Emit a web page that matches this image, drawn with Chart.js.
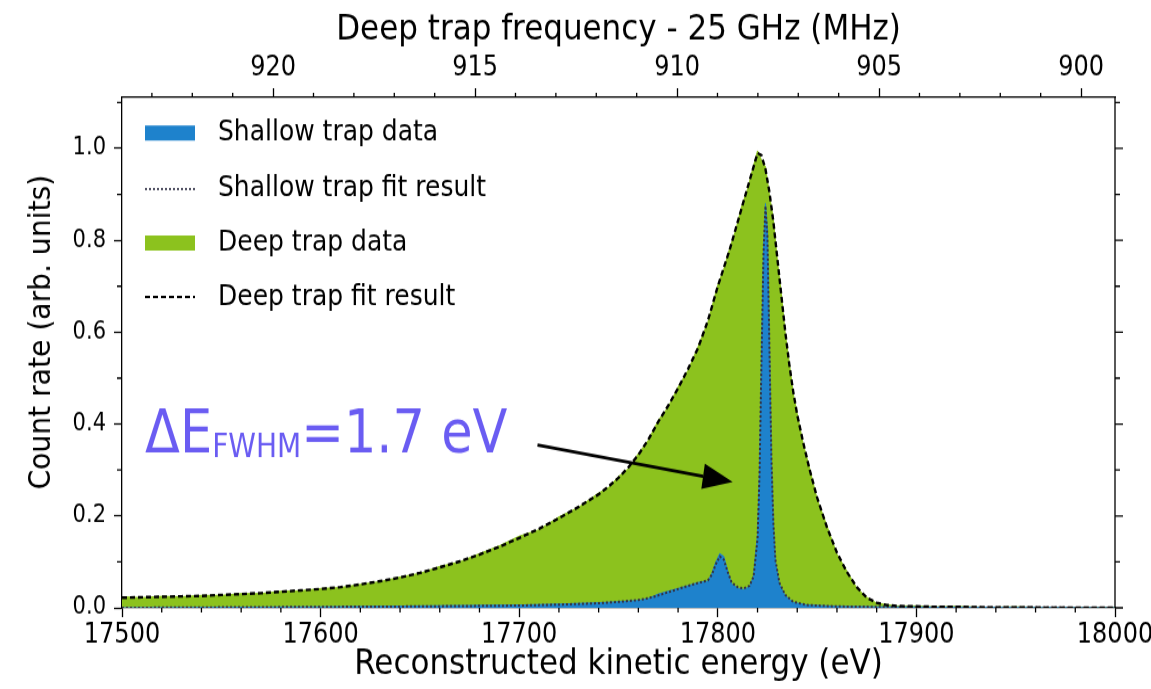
<!DOCTYPE html>
<html>
<head>
<meta charset="utf-8">
<script src="https://cdn.jsdelivr.net/npm/chart.js@4.4.1/dist/chart.umd.min.js"></script>
<style>
  html, body { margin: 0; padding: 0; background: #fff; }
</style>
</head>
<body>
<!-- drawn at 1151x594 and shown at 1151x689: the reference is stretched vertically -->
<canvas id="chart" width="1151" height="594" style="display:block;width:1151px;height:689px"></canvas>
<script>
// deep trap spectrum (green) and its fit
const deepEnergy = [17500, 17510, 17520, 17530, 17540, 17550, 17560, 17570, 17580, 17590,
  17600, 17610, 17620, 17630, 17640, 17650, 17660, 17670, 17680, 17690,
  17700, 17710, 17720, 17730, 17740, 17745, 17750, 17755, 17760, 17765,
  17770, 17775, 17780, 17785, 17790, 17795, 17800, 17803, 17806, 17809,
  17812, 17815, 17818, 17820, 17822, 17824, 17826, 17828, 17830, 17832,
  17834, 17836, 17838, 17840, 17843, 17846, 17850, 17855, 17860, 17865,
  17870, 17875, 17880, 17885, 17890, 17900, 17910, 17920, 17935, 17950,
  17970, 18000];
const deepCounts = [0.024, 0.022, 0.025, 0.024, 0.027, 0.027, 0.031, 0.031, 0.036, 0.037,
  0.042, 0.044, 0.051, 0.057, 0.067, 0.075, 0.090, 0.100, 0.118, 0.135,
  0.156, 0.170, 0.198, 0.219, 0.250, 0.262, 0.286, 0.303, 0.336, 0.365,
  0.408, 0.437, 0.481, 0.517, 0.568, 0.622, 0.703, 0.737, 0.783, 0.822,
  0.874, 0.912, 0.963, 0.995, 0.975, 0.960, 0.900, 0.845, 0.755, 0.684,
  0.596, 0.534, 0.466, 0.423, 0.357, 0.308, 0.237, 0.178, 0.117, 0.080,
  0.043, 0.023, 0.010, 0.007, 0.004, 0.004, 0.002, 0.003, 0.001, 0.002,
  0.000, 0.000];
const deepFit = [0.022, 0.023, 0.024, 0.025, 0.026, 0.028, 0.030, 0.032, 0.035, 0.038,
  0.041, 0.045, 0.051, 0.058, 0.066, 0.076, 0.088, 0.101, 0.116, 0.133,
  0.152, 0.172, 0.195, 0.220, 0.247, 0.264, 0.283, 0.306, 0.333, 0.366,
  0.405, 0.440, 0.478, 0.520, 0.565, 0.625, 0.700, 0.740, 0.780, 0.825,
  0.870, 0.915, 0.960, 0.990, 0.985, 0.955, 0.905, 0.840, 0.760, 0.680,
  0.600, 0.530, 0.470, 0.420, 0.360, 0.305, 0.240, 0.175, 0.120, 0.078,
  0.045, 0.022, 0.011, 0.006, 0.004, 0.003, 0.002, 0.002, 0.001, 0.001,
  0.000, 0.000];

// shallow trap spectrum (blue) and its fit
const shallowEnergy = [17500, 17550, 17600, 17650, 17700, 17720, 17740, 17750, 17760, 17765,
  17770, 17775, 17780, 17785, 17790, 17795, 17797, 17799, 17801, 17803,
  17805, 17807, 17810, 17813, 17816, 17818, 17820, 17821, 17822, 17823,
  17824, 17825, 17826, 17827, 17828, 17829, 17831, 17834, 17838, 17845,
  17860, 17880, 17920, 18000];
const shallowCounts = [0.000, 0.001, 0.002, 0.004, 0.006, 0.008, 0.011, 0.013, 0.016, 0.020,
  0.030, 0.036, 0.042, 0.048, 0.055, 0.058, 0.075, 0.100, 0.118, 0.112,
  0.080, 0.052, 0.043, 0.040, 0.046, 0.070, 0.160, 0.300, 0.550, 0.780,
  0.880, 0.820, 0.580, 0.320, 0.180, 0.100, 0.052, 0.026, 0.012, 0.006,
  0.003, 0.002, 0.001, 0.000];
const shallowFit = [0.000, 0.001, 0.002, 0.003, 0.005, 0.007, 0.010, 0.013, 0.017, 0.021,
  0.027, 0.034, 0.041, 0.048, 0.054, 0.060, 0.072, 0.095, 0.112, 0.105,
  0.078, 0.055, 0.045, 0.042, 0.048, 0.068, 0.150, 0.290, 0.540, 0.770,
  0.875, 0.810, 0.570, 0.330, 0.185, 0.105, 0.055, 0.028, 0.013, 0.006,
  0.003, 0.002, 0.001, 0.000];

// axis ticks
const energyTicks = [17500, 17600, 17700, 17800, 17900, 18000];
const freqTicks = [920, 915, 910, 905, 900];
const countTicks = [0.0, 0.2, 0.4, 0.6, 0.8, 1.0];

const seriesLabels = ['Shallow trap data', 'Shallow trap fit result', 'Deep trap data', 'Deep trap fit result'];
const countTitle = 'Count rate (arb. units)';

const GREEN = '#8cc21e';
const BLUE = '#1e82cc';
const NOTE = '#6a5cf2';

const pts = (xs, ys) => xs.map((x, i) => ({ x: x, y: ys[i] }));

Chart.defaults.font.family = '"DejaVu Sans", sans-serif';
Chart.defaults.color = '#000';

// minor ticks, right spine, y title, legend and the FWHM note
const extras = {
  id: 'extras',
  afterDraw(chart) {
    const { ctx, chartArea: a, scales } = chart;
    const sx = scales.x, st = scales.x2, sy = scales.y;
    ctx.save();
    ctx.strokeStyle = '#000';
    ctx.lineWidth = 1.3;
    ctx.beginPath();
    ctx.moveTo(a.right, a.top);
    ctx.lineTo(a.right, a.bottom);
    for (let e = 17520; e < 18000; e += 20) {
      if (e % 100 === 0) continue;
      const px = sx.getPixelForValue(e);
      ctx.moveTo(px, a.bottom);
      ctx.lineTo(px, a.bottom + 4);
    }
    for (let f = 900; f <= 923; f++) {
      if (f % 5 === 0) continue;
      const px = st.getPixelForValue(f);
      ctx.moveTo(px, a.top);
      ctx.lineTo(px, a.top - 4);
    }
    for (let k = 1; k <= 11; k += 2) {
      const py = sy.getPixelForValue(k / 10);
      ctx.moveTo(a.left, py);
      ctx.lineTo(a.left - 5, py);
    }
    for (let k = 0; k <= 11; k++) {
      const py = sy.getPixelForValue(k / 10);
      ctx.moveTo(a.right, py);
      ctx.lineTo(a.right + (k % 2 === 0 ? 8 : 5), py);
    }
    ctx.stroke();

    // y title, a bit squeezed along its length like the reference
    ctx.save();
    ctx.translate(42, sy.getPixelForValue(0.6));
    ctx.rotate(-Math.PI / 2);
    ctx.scale(0.81, 1);
    ctx.font = '30px "DejaVu Sans"';
    ctx.textAlign = 'center';
    ctx.textBaseline = 'middle';
    ctx.fillStyle = '#000';
    ctx.fillText(countTitle, 0, 0);
    ctx.restore();

    // legend
    const rows = [114.7, 162.9, 209.5, 256];
    ctx.font = '25px "DejaVu Sans"';
    ctx.textBaseline = 'middle';
    ctx.fillStyle = '#000';
    seriesLabels.forEach((t, i) => ctx.fillText(t, 218, rows[i]));
    ctx.fillStyle = BLUE;
    ctx.fillRect(145, rows[0] - 6.5, 50, 13);
    ctx.fillStyle = GREEN;
    ctx.fillRect(145, rows[2] - 6.5, 50, 13);
    ctx.lineWidth = 2;
    ctx.strokeStyle = '#556';
    ctx.setLineDash([2, 2]);
    ctx.beginPath();
    ctx.moveTo(145, rows[1]);
    ctx.lineTo(195, rows[1]);
    ctx.stroke();
    ctx.strokeStyle = '#000';
    ctx.setLineDash([5, 3]);
    ctx.beginPath();
    ctx.moveTo(145, rows[3]);
    ctx.lineTo(195, rows[3]);
    ctx.stroke();
    ctx.setLineDash([]);

    // note text
    let tx = sx.getPixelForValue(17511.6);
    const ty = sy.getPixelForValue(0.339);
    ctx.fillStyle = NOTE;
    ctx.textBaseline = 'alphabetic';
    ctx.font = '51px "DejaVu Sans"';
    ctx.fillText('ΔE', tx, ty);
    tx += ctx.measureText('ΔE').width;
    ctx.font = '28px "DejaVu Sans"';
    ctx.fillText('FWHM', tx, ty + 4);
    tx += ctx.measureText('FWHM').width;
    ctx.font = '51px "DejaVu Sans"';
    ctx.fillText('=1.7 eV', tx, ty);

    // arrow
    const x0 = sx.getPixelForValue(17709.2), y0 = sy.getPixelForValue(0.3545);
    const x1 = sx.getPixelForValue(17807.5), y1 = sy.getPixelForValue(0.274);
    const ang = Math.atan2(y1 - y0, x1 - x0);
    const hl = 30, hw = 11;
    const bx = x1 - hl * Math.cos(ang), by = y1 - hl * Math.sin(ang);
    ctx.strokeStyle = '#000';
    ctx.lineWidth = 2.6;
    ctx.beginPath();
    ctx.moveTo(x0, y0);
    ctx.lineTo(bx, by);
    ctx.stroke();
    ctx.fillStyle = '#000';
    ctx.beginPath();
    ctx.moveTo(x1, y1);
    ctx.lineTo(bx + hw * Math.sin(ang), by - hw * Math.cos(ang));
    ctx.lineTo(bx - hw * Math.sin(ang), by + hw * Math.cos(ang));
    ctx.closePath();
    ctx.fill();
    ctx.restore();
  }
};

const axisGrid = {
  display: true,
  drawOnChartArea: false,
  drawTicks: true,
  tickLength: 8,
  tickWidth: 1.3,
  tickColor: '#000'
};
const axisBorder = { display: true, color: '#000', width: 1.3 };

new Chart(document.getElementById('chart'), {
  type: 'line',
  data: {
    datasets: [
      {
        label: seriesLabels[3],
        data: pts(deepEnergy, deepFit),
        borderColor: '#000',
        borderWidth: 2.4,
        borderDash: [5, 3],
        pointRadius: 0,
        fill: false,
        order: 0
      },
      {
        label: seriesLabels[1],
        data: pts(shallowEnergy, shallowFit),
        borderColor: '#334',
        borderWidth: 2,
        borderDash: [2, 2],
        pointRadius: 0,
        fill: false,
        order: 1
      },
      {
        label: seriesLabels[0],
        data: pts(shallowEnergy, shallowCounts),
        borderColor: BLUE,
        backgroundColor: BLUE,
        borderWidth: 1,
        pointRadius: 0,
        fill: 'origin',
        order: 2
      },
      {
        label: seriesLabels[2],
        data: pts(deepEnergy, deepCounts),
        borderColor: GREEN,
        backgroundColor: GREEN,
        borderWidth: 1,
        pointRadius: 0,
        fill: 'origin',
        order: 3
      }
    ]
  },
  options: {
    responsive: false,
    devicePixelRatio: 1,
    animation: false,
    layout: { padding: { left: 0, right: 36, top: 0, bottom: 0 } },
    plugins: {
      legend: { display: false },
      tooltip: { enabled: false }
    },
    scales: {
      x: {
        type: 'linear',
        position: 'bottom',
        min: 17500,
        max: 18000,
        afterBuildTicks: s => { s.ticks = energyTicks.map(v => ({ value: v })); },
        afterFit: s => { s.height = 70; s.paddingLeft = 0; s.paddingRight = 0; },
        ticks: {
          font: { size: 24 },
          padding: 1,
          maxRotation: 0,
          autoSkip: false,
          callback: v => String(v)
        },
        grid: axisGrid,
        border: axisBorder,
        title: {
          display: true,
          text: 'Reconstructed kinetic energy (eV)',
          font: { size: 31 },
          padding: { top: 0, bottom: 2 }
        }
      },
      x2: {
        type: 'linear',
        position: 'top',
        min: 899.16,
        max: 923.74,
        reverse: true,
        afterBuildTicks: s => { s.ticks = freqTicks.map(v => ({ value: v })); },
        afterFit: s => { s.height = 84; s.paddingLeft = 0; s.paddingRight = 0; },
        ticks: {
          font: { size: 24 },
          padding: 3,
          maxRotation: 0,
          autoSkip: false,
          callback: v => String(v)
        },
        grid: axisGrid,
        border: axisBorder,
        title: {
          display: true,
          text: 'Deep trap frequency - 25 GHz (MHz)',
          font: { size: 31 },
          padding: { top: 7, bottom: 0 }
        }
      },
      y: {
        type: 'linear',
        position: 'left',
        min: 0,
        max: 1.111,
        afterBuildTicks: s => { s.ticks = countTicks.map(v => ({ value: v })); },
        afterFit: s => { s.width = 122; s.paddingTop = 0; s.paddingBottom = 0; },
        ticks: {
          font: { size: 21 },
          padding: 8,
          autoSkip: false,
          callback: v => v.toFixed(1)
        },
        grid: axisGrid,
        border: axisBorder,
        title: { display: false }
      }
    }
  },
  plugins: [extras]
});
</script>
</body>
</html>
